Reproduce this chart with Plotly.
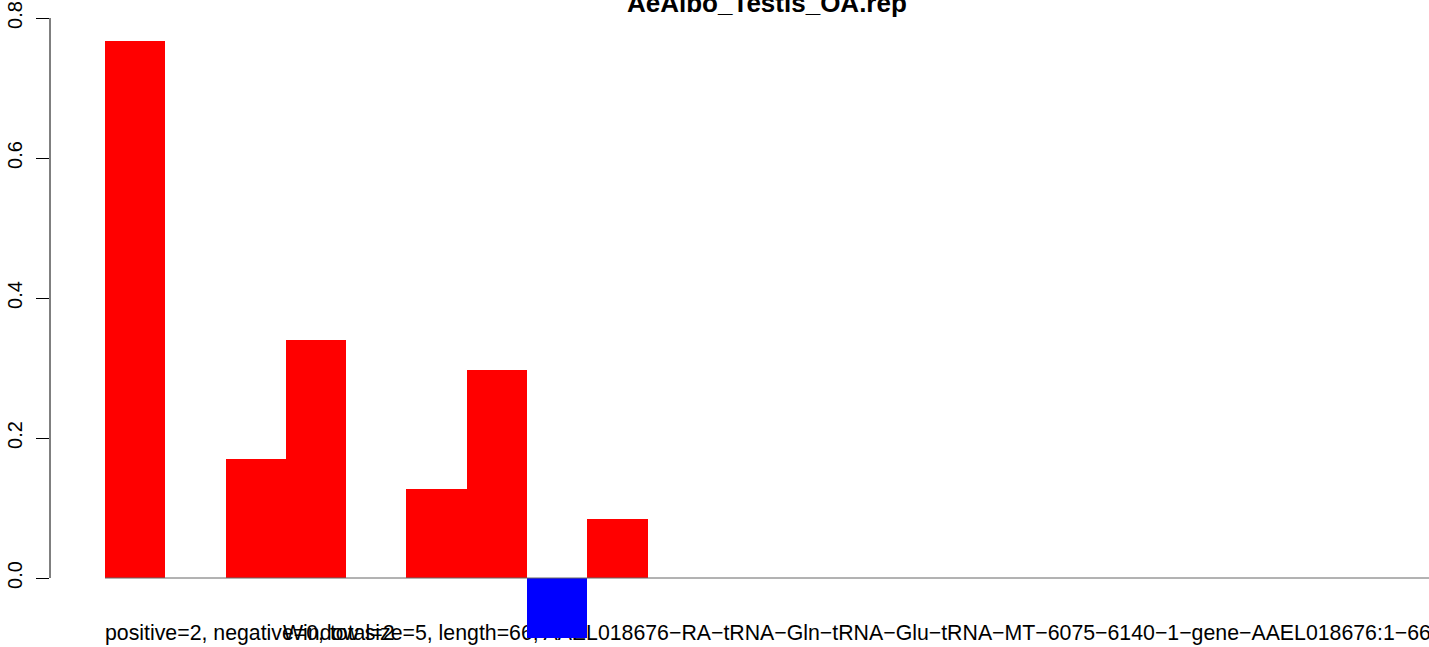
import plotly.graph_objects as go

# ---- data ----
title = "AeAlbo_Testis_OA.rep"
window_index = list(range(1, 23))
scores = [0.767, 0.0, 0.170, 0.340, 0.0, 0.127, 0.297, -0.086, 0.084,
          0.0, 0.0, 0.0, 0.0, 0.0, 0.0, 0.0, 0.0, 0.0, 0.0, 0.0, 0.0, 0.0]
y_ticks = [0.0, 0.2, 0.4, 0.6, 0.8]
y_ticklabels = ["0.0", "0.2", "0.4", "0.6", "0.8"]
summary_text = "positive=2, negative=0, total=2"
info_text = "Window size=5, length=66, AAEL018676\u2212RA\u2212tRNA\u2212Gln\u2212tRNA\u2212Glu\u2212tRNA\u2212MT\u22126075\u22126140\u22121\u2212gene\u2212AAEL018676:1\u221266"

FONT = "Liberation Sans, Arial, Helvetica, sans-serif"
colors = ["#0000FF" if v < 0 else "#FF0000" for v in scores]
xc = [i - 0.5 for i in window_index]

W, H = 1429, 647
ML, MT = 50, 18
x_range = [-0.912, 21.96]
y_range = [0.8 - (H - MT) / 700.0, 0.8]

fig = go.Figure()

# text layer (base axes, drawn below bars)
fig.add_trace(go.Scatter(x=[0.0], y=[-0.081], mode="text", text=[summary_text],
                         textposition="middle right", cliponaxis=False,
                         textfont=dict(family=FONT, size=21.3, color="black"),
                         hoverinfo="skip", showlegend=False, xaxis="x", yaxis="y"))
fig.add_trace(go.Scatter(x=[2.952], y=[-0.081], mode="text", text=[info_text],
                         textposition="middle right", cliponaxis=False,
                         textfont=dict(family=FONT, size=21.3, color="black"),
                         hoverinfo="skip", showlegend=False, xaxis="x", yaxis="y"))

# bars on overlay axes (drawn on top)
fig.add_trace(go.Bar(x=xc, y=scores, width=1.0, marker=dict(color=colors, line=dict(width=0)),
                     showlegend=False, xaxis="x2", yaxis="y2"))

fig.update_layout(
    width=W, height=H,
    margin=dict(l=ML, r=0, t=MT, b=0, autoexpand=False),
    paper_bgcolor="white", plot_bgcolor="white",
    bargap=0,
    xaxis=dict(range=x_range, visible=False, showgrid=False, zeroline=False, automargin=False),
    yaxis=dict(range=y_range, tickvals=y_ticks, ticktext=y_ticklabels,
               ticks="outside", ticklen=13, tickwidth=1, tickcolor="black",
               tickangle=-90, showgrid=False, zeroline=False, showline=False,
               automargin=False, ticklabelstandoff=6, ticklabeloverflow="allow",
               tickfont=dict(family=FONT, size=20, color="black")),
    xaxis2=dict(range=x_range, visible=False, overlaying="x", showgrid=False, zeroline=False),
    yaxis2=dict(range=y_range, visible=False, overlaying="y", showgrid=False, zeroline=False),
    shapes=[
        dict(type="line", xref="paper", yref="y", x0=0, x1=0, y0=0, y1=0.8,
             line=dict(color="black", width=1)),
        dict(type="line", xref="x", yref="y", x0=0, x1=x_range[1], y0=0, y1=0,
             line=dict(color="#666666", width=1)),
    ],
    annotations=[
        dict(text="<b>" + title + "</b>", xref="paper", yref="paper",
             x=(767 - ML) / (W - ML), y=(H - 3) / (H - MT),
             xanchor="center", yanchor="middle", showarrow=False,
             font=dict(family=FONT, size=26, color="black")),
    ],
)

fig.write_html("out.html", config={"displayModeBar": False},
               post_script="document.body.style.margin='0';document.body.style.overflow='hidden';")
